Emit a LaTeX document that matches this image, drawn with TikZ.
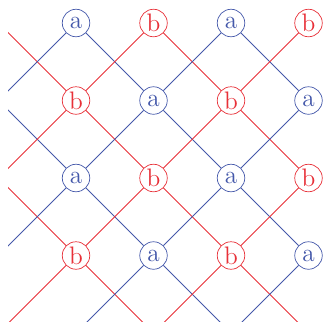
\documentclass[tikz,border=0pt]{standalone}
\usepackage{tikz}

\definecolor{lineblue}{RGB}{68,88,170}
\definecolor{linered}{RGB}{232,48,56}

\tikzset{
	anode/.style={circle, draw=lineblue, text=lineblue, fill=white, minimum size=0.55cm, inner sep=1pt, font=\Large},
	bnode/.style={circle, draw=linered, text=linered, fill=white, minimum size=0.55cm, inner sep=1pt, font=\Large},
	aline/.style={draw=lineblue, line width=0.5pt},
	bline/.style={draw=linered, line width=0.5pt}
}

\begin{document}
\begin{tikzpicture}[x=1.55cm, y=1.55cm]
	\useasboundingbox (-0.981, 0.297) rectangle (3.187, -3.858);
	\node[anode] (n00) at (0, 0){a};
	\node[bnode] (n01) at (1, 0){b};
	\node[anode] (n02) at (2, 0){a};
	\node[bnode] (n03) at (3, 0){b};
	\node[bnode] (n10) at (0, -1){b};
	\node[anode] (n11) at (1, -1){a};
	\node[bnode] (n12) at (2, -1){b};
	\node[anode] (n13) at (3, -1){a};
	\node[anode] (n20) at (0, -2){a};
	\node[bnode] (n21) at (1, -2){b};
	\node[anode] (n22) at (2, -2){a};
	\node[bnode] (n23) at (3, -2){b};
	\node[bnode] (n30) at (0, -3){b};
	\node[anode] (n31) at (1, -3){a};
	\node[bnode] (n32) at (2, -3){b};
	\node[anode] (n33) at (3, -3){a};
	% free ends outside the picture
	\coordinate (L0) at (-1, 0);
	\coordinate (L1) at (-1, -1);
	\coordinate (L2) at (-1, -2);
	\coordinate (L3) at (-1, -3);
	\coordinate (Bm) at (-1, -4);
	\coordinate (B0) at (0, -4);
	\coordinate (B1) at (1, -4);
	\coordinate (B2) at (2, -4);
	\coordinate (B3) at (3, -4);
	\begin{scope}
	\clip (-0.877, 0.297) rectangle (3.187, -3.858);
	\draw[bline] (L0) -- (n10);
	\draw[aline] (n00) -- (n11);
	\draw[bline] (n01) -- (n12);
	\draw[aline] (n02) -- (n13);
	\draw[aline] (n00) -- (L1);
	\draw[bline] (n01) -- (n10);
	\draw[aline] (n02) -- (n11);
	\draw[bline] (n03) -- (n12);
	\draw[aline] (L1) -- (n20);
	\draw[bline] (n10) -- (n21);
	\draw[aline] (n11) -- (n22);
	\draw[bline] (n12) -- (n23);
	\draw[bline] (n10) -- (L2);
	\draw[aline] (n11) -- (n20);
	\draw[bline] (n12) -- (n21);
	\draw[aline] (n13) -- (n22);
	\draw[bline] (L2) -- (n30);
	\draw[aline] (n20) -- (n31);
	\draw[bline] (n21) -- (n32);
	\draw[aline] (n22) -- (n33);
	\draw[aline] (n20) -- (L3);
	\draw[bline] (n21) -- (n30);
	\draw[aline] (n22) -- (n31);
	\draw[bline] (n23) -- (n32);
	\draw[bline] (n30) -- (B1);
	\draw[aline] (n31) -- (B2);
	\draw[bline] (n32) -- (B3);
	\draw[bline] (n30) -- (Bm);
	\draw[aline] (n31) -- (B0);
	\draw[bline] (n32) -- (B1);
	\draw[aline] (n33) -- (B2);
	\end{scope}
\end{tikzpicture}
\end{document}
